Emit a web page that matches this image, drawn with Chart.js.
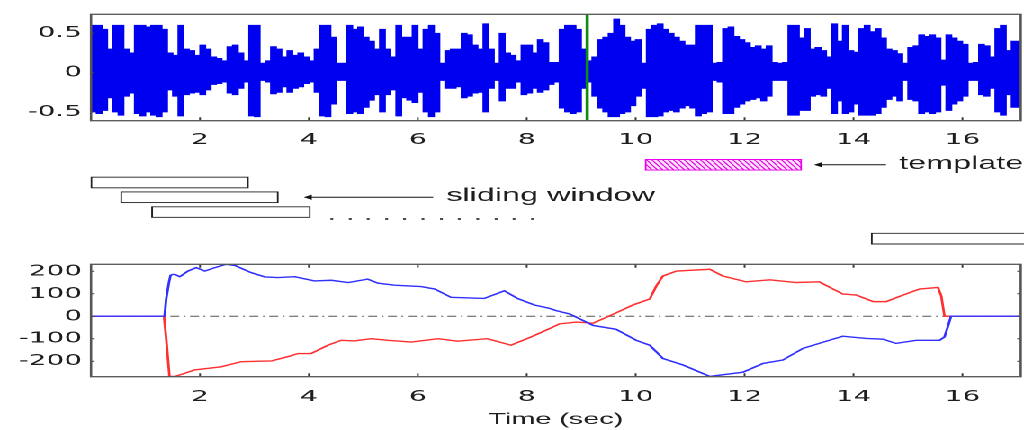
<!DOCTYPE html>
<html>
<head>
<meta charset="utf-8">
<script src="https://cdn.jsdelivr.net/npm/chart.js@4.4.1/dist/chart.umd.min.js"></script>
<style>
  html, body { margin: 0; padding: 0; background: #fff; overflow: hidden; }
  /* the figure is drawn at 569px and stretched sideways, like the source image */
  #stage { position: absolute; left: 0; top: 0; width: 569px; height: 430px;
           transform: scaleX(1.7996); transform-origin: 0 0; }
  .pane { position: absolute; left: 0; width: 569px; }
  #top-pane { top: 0; height: 150px; }
  #mid-pane { top: 146.3px; height: 104px; }
  #bot-pane { top: 250px; height: 180px; }
</style>
</head>
<body>
<div id="stage">
  <div class="pane" id="top-pane"><canvas id="sig"></canvas></div>
  <div class="pane" id="mid-pane"><canvas id="win"></canvas></div>
  <div class="pane" id="bot-pane"><canvas id="corr"></canvas></div>
</div>
<script>
// ── Data ────────────────────────────────────────────────────────────────────
const X_MAX = 17.07;
const xTicks = [2, 4, 6, 8, 10, 12, 14, 16];

// speech signal envelope, one value per 0.1 s (upper / lower edge)
const WAVE_STEP = 0.1;
const waveHi = [
  0.45, 0.6, 0.6, 0.55, 0.3, 0.6, 0.6, 0.3, 0.25, 0.6,
  0.6, 0.58, 0.6, 0.6, 0.55, 0.25, 0.22, 0.6, 0.3, 0.28,
  0.22, 0.35, 0.3, 0.2, 0.18, 0.15, 0.33, 0.35, 0.25, 0.15,
  0.6, 0.6, 0.12, 0.15, 0.33, 0.3, 0.2, 0.28, 0.22, 0.25,
  0.2, 0.15, 0.3, 0.6, 0.6, 0.45, 0.12, 0.12, 0.6, 0.55,
  0.58, 0.45, 0.4, 0.3, 0.55, 0.3, 0.2, 0.6, 0.45, 0.45,
  0.6, 0.3, 0.55, 0.6, 0.5, 0.12, 0.28, 0.3, 0.3, 0.5,
  0.48, 0.35, 0.3, 0.62, 0.3, 0.12, 0.5, 0.25, 0.22, 0.15,
  0.35, 0.35, 0.25, 0.42, 0.38, 0.13, 0.13, 0.55, 0.6, 0.6,
  0.55, 0.3, 0.15, 0.2, 0.42, 0.45, 0.5, 0.68, 0.6, 0.45,
  0.4, 0.42, 0.12, 0.55, 0.6, 0.62, 0.55, 0.5, 0.45, 0.4,
  0.35, 0.35, 0.6, 0.6, 0.6, 0.12, 0.13, 0.56, 0.58, 0.46,
  0.42, 0.38, 0.32, 0.34, 0.3, 0.34, 0.13, 0.12, 0.13, 0.6,
  0.6, 0.44, 0.56, 0.3, 0.32, 0.28, 0.2, 0.62, 0.4, 0.6,
  0.28, 0.26, 0.56, 0.6, 0.52, 0.56, 0.44, 0.3, 0.28, 0.24,
  0.12, 0.32, 0.34, 0.48, 0.46, 0.48, 0.44, 0.16, 0.48, 0.44,
  0.4, 0.36, 0.12, 0.13, 0.36, 0.34, 0.2, 0.56, 0.6, 0.28,
  0.4, 0.4
];
const waveLo = [
  -0.45, -0.5, -0.52, -0.48, -0.32, -0.5, -0.54, -0.3, -0.26, -0.52,
  -0.55, -0.5, -0.54, -0.56, -0.5, -0.22, -0.3, -0.55, -0.28, -0.26,
  -0.25, -0.28, -0.22, -0.15, -0.14, -0.12, -0.26, -0.28, -0.2, -0.12,
  -0.55, -0.56, -0.1, -0.12, -0.27, -0.25, -0.18, -0.25, -0.2, -0.18,
  -0.14, -0.12, -0.25, -0.55, -0.56, -0.4, -0.1, -0.1, -0.52, -0.5,
  -0.52, -0.44, -0.35, -0.28, -0.5, -0.28, -0.22, -0.55, -0.32, -0.35,
  -0.38, -0.25, -0.5, -0.56, -0.5, -0.1, -0.2, -0.2, -0.18, -0.32,
  -0.3, -0.26, -0.25, -0.5, -0.2, -0.1, -0.36, -0.2, -0.2, -0.12,
  -0.28, -0.26, -0.2, -0.25, -0.22, -0.15, -0.12, -0.45, -0.5, -0.52,
  -0.5, -0.2, -0.12, -0.3, -0.45, -0.5, -0.56, -0.56, -0.52, -0.5,
  -0.42, -0.3, -0.2, -0.56, -0.56, -0.55, -0.5, -0.48, -0.5, -0.45,
  -0.42, -0.45, -0.55, -0.52, -0.5, -0.1, -0.12, -0.52, -0.52, -0.44,
  -0.4, -0.36, -0.34, -0.32, -0.36, -0.3, -0.1, -0.1, -0.1, -0.54,
  -0.54, -0.48, -0.48, -0.3, -0.28, -0.3, -0.2, -0.52, -0.36, -0.52,
  -0.5, -0.4, -0.54, -0.54, -0.54, -0.52, -0.44, -0.34, -0.3, -0.36,
  -0.1, -0.34, -0.36, -0.52, -0.5, -0.52, -0.5, -0.16, -0.48, -0.4,
  -0.36, -0.3, -0.1, -0.1, -0.28, -0.3, -0.2, -0.5, -0.54, -0.28,
  -0.44, -0.44
];
const waveT = waveHi.map((_, i) => +(i * WAVE_STEP).toFixed(1));
const sigTicks = [-0.5, 0, 0.5];
const SIG_MIN = -0.61, SIG_MAX = 0.74;
const markerT = 9.11;   // green cursor

// sliding windows and template (seconds), row = vertical slot
const winStart = [0.0, 0.55, 1.12, 14.39];
const winEnd   = [2.9, 3.45, 4.04, 17.4];
const winRow   = [0, 1, 2, 3.8];
const tplStart = 10.22, tplEnd = 13.1, tplRow = -1.2;
const arrowFrom = [14.66, 6.31];
const arrowTo   = [13.43, 4.02];
const arrowRow  = [-1.2, 1.0];
const noteText  = ["template", "sliding window"];
const noteT     = [14.9, 6.55];
const noteRow   = [-1.25, 0.9];
const dotT = [4.44, 4.78, 5.11, 5.45, 5.78, 6.12, 6.46, 6.79, 7.13, 7.47, 7.8, 8.14];
const dotRow = 2.47;

// matching score over time
const blueT = [0, 1.35, 1.38, 1.43, 1.46, 1.5, 1.54, 1.63, 1.78, 1.93,
  2.09, 2.27, 2.48, 2.64, 2.94, 3.19, 3.43, 3.74, 4.1, 4.41,
  4.72, 5.08, 5.27, 5.57, 6.06, 6.31, 6.61, 7.22, 7.59, 7.83,
  8.14, 8.42, 8.54, 8.79, 9.22, 9.64, 10.01, 10.26, 10.5, 10.87,
  11.36, 11.97, 12.34, 12.7, 13.07, 13.5, 13.8, 14.23, 14.54, 14.78,
  15.15, 15.58, 15.67, 15.73, 15.79, 17.07];
const blueV = [0, 0, 77, 150, 182, 186, 186, 176, 201, 216,
  201, 216, 231, 226, 194, 175, 172, 176, 157, 160,
  150, 165, 147, 138, 132, 121, 84, 79, 113, 79,
  50, 35, 25, 10, -41, -58, -107, -129, -188, -217,
  -268, -249, -210, -195, -143, -111, -89, -99, -102, -121,
  -107, -107, -92, -48, 0, 0];
const redT = [0, 1.34, 1.38, 1.44, 1.54, 1.72, 1.9, 2.39, 2.76, 3.31,
  3.61, 3.8, 4.04, 4.35, 4.59, 4.84, 5.14, 5.45, 5.88, 6.37,
  6.73, 7.28, 7.71, 8.08, 8.42, 8.6, 8.91, 9.22, 9.64, 9.95,
  10.26, 10.38, 10.5, 10.75, 11.36, 11.6, 12.03, 12.46, 12.95, 13.37,
  13.8, 14.05, 14.36, 14.6, 14.91, 15.21, 15.55, 15.61, 15.67, 17.07];
const redV = [0, 0, -100, -268, -268, -254, -239, -225, -202, -199,
  -180, -166, -166, -129, -107, -110, -100, -107, -115, -100,
  -111, -100, -129, -92, -55, -34, -26, -31, 15, 50,
  77, 135, 179, 201, 209, 179, 153, 162, 150, 153,
  99, 94, 65, 65, 94, 121, 128, 91, 0, 0];
const corrTicks = [-200, -100, 0, 100, 200];
const CORR_MIN = -269, CORR_MAX = 231;

// ── Shared look ─────────────────────────────────────────────────────────────
Chart.defaults.font.family = "'Liberation Sans', Arial, sans-serif";
Chart.defaults.font.size = 16;
Chart.defaults.color = "#1e1e1e";
Chart.defaults.animation = false;
Chart.defaults.plugins.legend.display = false;
Chart.defaults.plugins.tooltip.enabled = false;

const TICK_FONT = { family: "'DejaVu Sans', sans-serif", size: 15.5 };
const pts = (xs, ys) => xs.map((x, i) => ({ x, y: ys[i] }));

// box round the axes + small inward tick marks (matlab style)
const frame = {
  id: "frame",
  afterDatasetsDraw(chart, args, o) {
    const { ctx, chartArea: a, scales: { x, y } } = chart;
    ctx.save();
    ctx.strokeStyle = "#3c3c3c";
    ctx.lineWidth = 1;
    ctx.beginPath();
    x.ticks.forEach(t => {
      const px = x.getPixelForValue(t.value);
      if (o.xEdges.includes("bottom")) { ctx.moveTo(px, a.bottom); ctx.lineTo(px, a.bottom - 3.5); }
      if (o.xEdges.includes("top"))    { ctx.moveTo(px, a.top);    ctx.lineTo(px, a.top + 3.5); }
    });
    y.ticks.forEach(t => {
      const py = y.getPixelForValue(t.value);
      if (o.yEdges.includes("left"))  { ctx.moveTo(a.left, py);  ctx.lineTo(a.left + 2, py); }
      if (o.yEdges.includes("right")) { ctx.moveTo(a.right, py); ctx.lineTo(a.right - 2, py); }
    });
    ctx.stroke();
    ctx.strokeStyle = "#555";
    ctx.lineWidth = 1.3;
    ctx.strokeRect(a.left, a.top, a.width, a.height);
    ctx.restore();
  }
};

function xAxis(height, padding) {
  return {
    type: "linear", min: 0, max: X_MAX,
    afterBuildTicks: s => { s.ticks = xTicks.map(v => ({ value: v })); },
    afterFit: s => { s.height = height; },
    grid: { display: false, drawTicks: false },
    border: { display: false },
    ticks: { padding, autoSkip: false, maxRotation: 0, font: TICK_FONT }
  };
}

function yAxis(min, max, ticks) {
  return {
    type: "linear", min, max,
    afterBuildTicks: s => { s.ticks = ticks.map(v => ({ value: v })); },
    afterFit: s => { s.width = 50.6; },
    grid: { display: false, drawTicks: false },
    border: { display: false },
    ticks: { padding: 5, font: TICK_FONT, callback: v => String(v) }
  };
}

// ── Top: signal ─────────────────────────────────────────────────────────────
new Chart(document.getElementById("sig"), {
  type: "line",
  data: {
    datasets: [
      { data: [{ x: markerT, y: SIG_MIN }, { x: markerT, y: SIG_MAX }],
        borderColor: "#108a10", borderWidth: 1.8, pointRadius: 0 },
      { data: pts(waveT, waveHi), stepped: "after", borderColor: "#0000f0",
        borderWidth: 0.8, pointRadius: 0, fill: false },
      { data: pts(waveT, waveLo), stepped: "after", borderColor: "#0000f0",
        borderWidth: 0.8, pointRadius: 0, fill: 1, backgroundColor: "#0000f0" }
    ]
  },
  options: {
    responsive: true, maintainAspectRatio: false, devicePixelRatio: 2,
    layout: { padding: { top: 8.3, right: 1.8, left: 0, bottom: 0 } },
    scales: { x: xAxis(29.3, 10), y: yAxis(SIG_MIN, SIG_MAX, sigTicks) },
    plugins: { frame: { xEdges: ["bottom"], yEdges: ["left"] } }
  },
  plugins: [frame]
});

// ── Middle: windows, template, notes ────────────────────────────────────────
function hatch() {
  const c = document.createElement("canvas");
  c.width = 6; c.height = 10;
  const g = c.getContext("2d");
  g.fillStyle = "#fbe0fb";
  g.fillRect(0, 0, 6, 10);
  g.strokeStyle = "#e000e0";
  g.lineWidth = 1.6;
  [-6, 0, 6].forEach(dx => { g.beginPath(); g.moveTo(dx, 0); g.lineTo(dx + 6, 10); g.stroke(); });
  const p = g.createPattern(c, "repeat");
  p.setTransform(new DOMMatrix().scale(0.5));
  return p;
}

const notes = {
  id: "notes",
  afterDatasetsDraw(chart) {
    const { ctx, scales: { x, y } } = chart;
    ctx.save();
    ctx.font = "18px 'Liberation Sans', Arial, sans-serif";
    ctx.fillStyle = "#1e1e1e";
    ctx.textBaseline = "middle";
    noteText.forEach((s, i) => ctx.fillText(s, x.getPixelForValue(noteT[i]), y.getPixelForValue(noteRow[i])));
    ctx.restore();
  }
};

new Chart(document.getElementById("win"), {
  type: "bar",
  data: {
    datasets: [
      { indexAxis: "y", grouped: false, barThickness: 11, clip: false,
        data: winRow.map((r, i) => ({ y: r, x: [winStart[i], winEnd[i]] })),
        backgroundColor: "#fff", borderColor: "#222", borderWidth: 1, borderSkipped: false },
      { indexAxis: "y", grouped: false, barThickness: 11,
        data: [{ y: tplRow, x: [tplStart, tplEnd] }],
        backgroundColor: hatch(), borderColor: "#ee00ee", borderWidth: 1, borderSkipped: false },
      ...arrowRow.map((r, i) => ({
        type: "line",
        data: [{ x: arrowTo[i], y: r }, { x: arrowFrom[i], y: r }],
        borderColor: "#111", borderWidth: 1,
        pointRadius: [3, 0], pointStyle: "triangle", pointRotation: 270,
        pointBackgroundColor: "#111", pointBorderWidth: 0
      })),
      { type: "scatter", data: dotT.map(t => ({ x: t, y: dotRow })),
        pointStyle: "rect", pointRadius: 1.1, pointBackgroundColor: "#111", pointBorderWidth: 0 }
    ]
  },
  options: {
    responsive: true, maintainAspectRatio: false, devicePixelRatio: 2,
    layout: { padding: { top: 0, right: 1.8, left: 50.6, bottom: 0 } },
    scales: {
      x: { type: "linear", min: 0, max: X_MAX, offset: false, display: false },
      y: { type: "linear", min: -2.2, max: 4.3, reverse: true, offset: false, display: false }
    }
  },
  plugins: [notes]
});

// ── Bottom: match score ─────────────────────────────────────────────────────
const corrX = xAxis(53.3, 11);
corrX.title = { display: true, text: "Time (sec)", padding: { top: 2, bottom: 1 } };

new Chart(document.getElementById("corr"), {
  type: "line",
  data: {
    datasets: [
      { data: pts(blueT, blueV), borderColor: "#3030ff", borderWidth: 1.4, pointRadius: 0, tension: 0 },
      { data: pts(redT, redV), borderColor: "#ff3030", borderWidth: 1.4, pointRadius: 0, tension: 0 },
      { data: [{ x: 0, y: 0 }, { x: X_MAX, y: 0 }], borderColor: "#555", borderWidth: 1,
        borderDash: [5, 2.5, 1, 2.5], pointRadius: 0 }
    ]
  },
  options: {
    responsive: true, maintainAspectRatio: false, devicePixelRatio: 2,
    layout: { padding: { top: 13.3, right: 1.8, left: 0, bottom: 0 } },
    scales: { x: corrX, y: yAxis(CORR_MIN, CORR_MAX, corrTicks) },
    plugins: { frame: { xEdges: ["bottom", "top"], yEdges: ["left", "right"] } }
  },
  plugins: [frame]
});
</script>
</body>
</html>
